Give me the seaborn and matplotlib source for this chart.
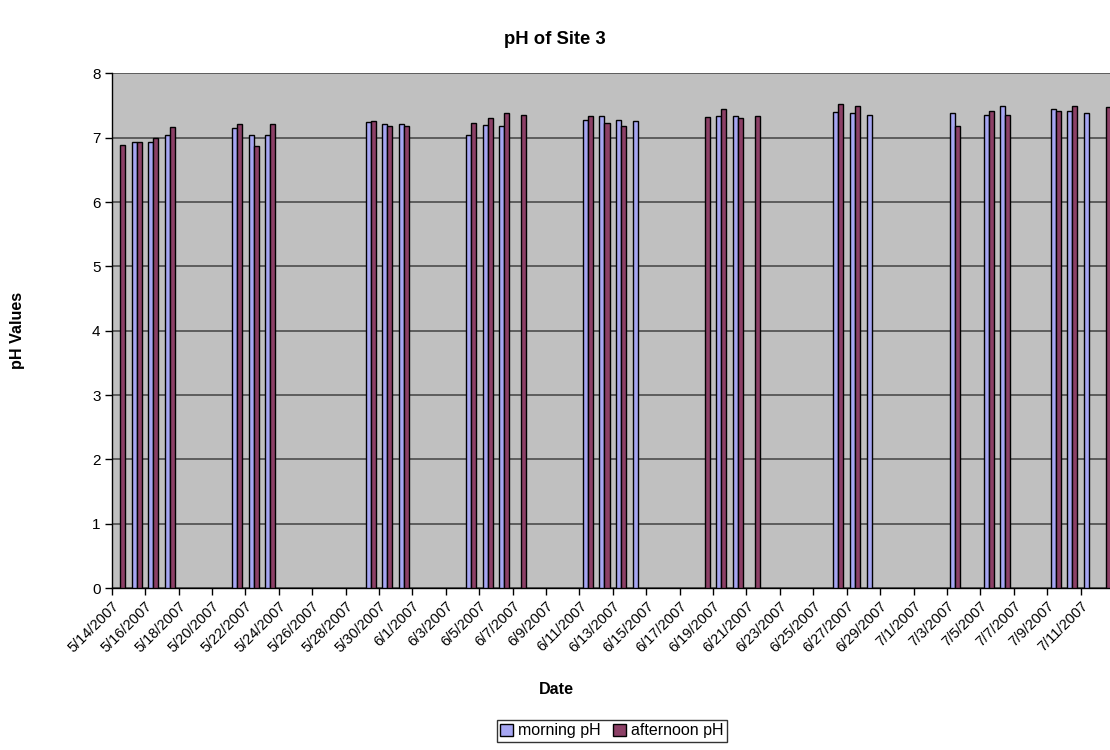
import datetime as dt
import matplotlib
matplotlib.use("Agg")
import matplotlib.pyplot as plt
import numpy as np
import pandas as pd
import seaborn as sns

# Sampling dates and the readings taken on each (None = no reading)
dates = [
    "5/14/2007", "5/15/2007", "5/16/2007", "5/17/2007",
    "5/21/2007", "5/22/2007", "5/23/2007",
    "5/29/2007", "5/30/2007", "5/31/2007",
    "6/4/2007", "6/5/2007", "6/6/2007", "6/7/2007",
    "6/11/2007", "6/12/2007", "6/13/2007", "6/14/2007",
    "6/18/2007", "6/19/2007", "6/20/2007", "6/21/2007",
    "6/26/2007", "6/27/2007", "6/28/2007",
    "7/3/2007", "7/5/2007", "7/6/2007",
    "7/9/2007", "7/10/2007", "7/11/2007", "7/12/2007",
]
morning_ph = [
    None, 6.93, 6.94, 7.04,
    7.15, 7.04, 7.04,
    7.25, 7.22, 7.21,
    7.04, 7.20, 7.18, None,
    7.28, 7.33, 7.27, 7.26,
    None, 7.33, 7.34, None,
    7.40, 7.38, 7.35,
    7.39, 7.36, 7.49,
    7.44, 7.42, 7.39, None,
]
afternoon_ph = [
    6.88, 6.94, 6.99, 7.16,
    7.21, 6.87, 7.21,
    7.26, 7.18, 7.19,
    7.23, 7.31, 7.38, 7.35,
    7.34, 7.23, 7.19, None,
    7.32, 7.44, 7.30, 7.34,
    7.53, 7.50, None,
    7.19, 7.42, 7.35,
    7.42, 7.49, None, 7.47,
]
series_names = ["morning pH", "afternoon pH"]
series_colors = ["#9999FF", "#993366"]

# Date axis: one unit per day, labels every second day
start = dt.date(2007, 5, 14)
end = dt.date(2007, 7, 13)
n_days = (end - start).days
tick_days = list(range(0, n_days, 2))
tick_labels = [
    f"{d.month}/{d.day}/{d.year}"
    for d in (start + dt.timedelta(days=k) for k in tick_days)
]

rows = []
for d, m, a in zip(dates, morning_ph, afternoon_ph):
    mm, dd, yy = (int(p) for p in d.split("/"))
    pos = (dt.date(yy, mm, dd) - start).days + 0.5
    for name, val in zip(series_names, (m, a)):
        if val is not None:
            rows.append({"day": pos, "series": name, "pH": val})
df = pd.DataFrame(rows)

sns.set_style("white")
plt.rcParams["font.family"] = ["Liberation Sans", "DejaVu Sans"]
plt.rcParams["text.color"] = "black"
plt.rcParams["xtick.color"] = "black"
plt.rcParams["ytick.color"] = "black"

fig = plt.figure(figsize=(11.1, 7.5), dpi=100)
ax = fig.add_axes([111.7 / 1110, 1 - 588 / 750, (1114 - 111.7) / 1110, (588 - 73.4) / 750])
ax.set_facecolor("#C0C0C0")

sns.barplot(
    data=df, x="day", y="pH", hue="series", hue_order=series_names,
    palette=dict(zip(series_names, series_colors)),
    native_scale=True, width=0.6, gap=0, errorbar=None,
    edgecolor="black", linewidth=1.0, ax=ax, zorder=3,
)

ax.set_xlim(0, n_days)
ax.set_ylim(0, 8)
ax.set_yticks(range(0, 9))
ax.set_yticklabels([str(v) for v in range(0, 9)], fontsize=11)
ax.set_xticks(tick_days)
ax.set_xticklabels(tick_labels, rotation=45, ha="right", rotation_mode="anchor", fontsize=10.5)
ax.tick_params(axis="both", direction="out", length=5, width=1, color="black",
               labelcolor="black", pad=3, bottom=True, left=True)
ax.yaxis.grid(True, color="#555555", linewidth=1.3, zorder=0)
ax.set_axisbelow(True)
for side in ("top", "right"):
    ax.spines[side].set_visible(False)
for side in ("left", "bottom"):
    ax.spines[side].set_color("black")
    ax.spines[side].set_linewidth(1.0)

ax.set_xlabel("")
ax.set_ylabel("")
fig.text(555 / 1110, 1 - 40 / 750, "pH of Site 3", ha="center", va="center",
         fontsize=13.3, fontweight="bold", color="black")
fig.text(556 / 1110, 1 - 690 / 750, "Date", ha="center", va="center",
         fontsize=11.6, fontweight="bold", color="black")
fig.text(18 / 1110, 1 - 330 / 750, "pH Values", ha="center", va="center",
         rotation=90, fontsize=11.6, fontweight="bold", color="black")

handles, labels = ax.get_legend_handles_labels()
if ax.get_legend() is not None:
    ax.get_legend().remove()
leg = fig.legend(handles, labels, loc="center", ncol=2,
                 bbox_to_anchor=(612 / 1110, 1 - 731 / 750), fontsize=11.5,
                 frameon=True, fancybox=False, edgecolor="black",
                 handlelength=0.8, handleheight=0.8, handletextpad=0.3,
                 columnspacing=0.8, borderpad=0.2, borderaxespad=0)
leg.get_frame().set_linewidth(1.0)
for t in leg.get_texts():
    t.set_color("black")

fig.savefig("out.png", dpi=100)
